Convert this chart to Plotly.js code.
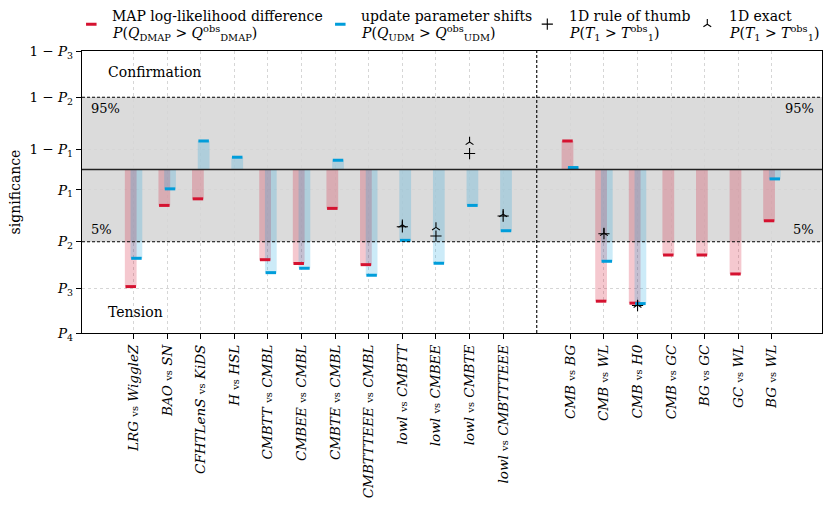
<!DOCTYPE html>
<html><head><meta charset="utf-8">
<script src="https://cdn.plot.ly/plotly-3.0.1.min.js"></script>
<style>html,body{margin:0;padding:0;background:#fff;} #chart{width:831px;height:506px;}</style>
</head><body><div id="chart"></div>
<script>
// ---- data (significance in transformed units; 0 = centre line) ----
const categories = ['LRG vs WiggleZ','BAO vs SN','CFHTLenS vs KiDS','H vs HSL','CMBTT vs CMBL','CMBEE vs CMBL','CMBTE vs CMBL','CMBTTTEEE vs CMBL','lowl vs CMBTT','lowl vs CMBEE','lowl vs CMBTE','lowl vs CMBTTTEEE','CMB vs BG','CMB vs WL','CMB vs H0','CMB vs GC','BG vs GC','GC vs WL','BG vs WL'];
const mapDiff   = [-2.668,-0.818,-0.668,null,-2.055,-2.141,-0.886,-2.168,null,null,null,null,0.650,-3.000,-3.045,-1.948,-1.948,-2.380,-1.168];
const updShift  = [-2.023,-0.441,0.650,0.280,-2.350,-2.250,0.211,-2.409,-1.614,-2.136,-0.818,-1.395,0.045,-2.091,-3.055,null,null,null,-0.214];
const ruleThumb = [null,null,null,null,null,null,null,null,-1.305,-1.516,0.364,-1.061,null,-1.464,-3.100,null,null,null,null];
const exact1D   = [null,null,null,null,null,null,null,null,-1.26,-1.318,0.627,-1.016,null,-1.448,-3.084,null,null,null,null];
const yTickVals = [2.70,1.645,0.465,-0.465,-1.645,-2.70,-3.725];
const yTickText = ['1 − <i>P</i><sub>3</sub>','1 − <i>P</i><sub>2</sub>','1 − <i>P</i><sub>1</sub>','<i>P</i><sub>1</sub>','<i>P</i><sub>2</sub>','<i>P</i><sub>3</sub>','<i>P</i><sub>4</sub>'];
const legendLine1 = ['MAP log-likelihood difference','update parameter shifts','1D rule of thumb','1D exact'];
const legendLine2 = ['<i>P</i>(<i>Q</i><sub>DMAP</sub> &gt; <i>Q</i><sup>obs</sup><sub>DMAP</sub>)',
                     '<i>P</i>(<i>Q</i><sub>UDM</sub> &gt; <i>Q</i><sup>obs</sup><sub>UDM</sub>)',
                     '<i>P</i>(<i>T</i><sub>1</sub> &gt; <i>T</i><sup>obs</sup><sub>1</sub>)',
                     '<i>P</i>(<i>T</i><sub>1</sub> &gt; <i>T</i><sup>obs</sup><sub>1</sub>)'];
const nLeft = 12;  // categories before the separator

// ---- layout helpers ----
const pos = i => (i < nLeft ? i : i + 1);
const xs = categories.map((c,i)=>pos(i));
const label = c => { const p = c.split(' vs '); return '<i>'+p[0]+'</i> <span style="font-size:10px">vs</span> <i>'+p[1]+'</i>'; };
const RED='rgb(213,18,48)', BLUE='rgb(0,157,218)';
const off = 0.085, bw = 0.35;

const traces = [
  {type:'bar', x:xs.map(v=>v-off), y:mapDiff, width:bw, marker:{color:'rgba(213,18,48,0.23)', line:{width:0}}, showlegend:false, hoverinfo:'skip'},
  {type:'bar', x:xs.map(v=>v+off), y:updShift, width:bw, marker:{color:'rgba(0,157,218,0.2)', line:{width:0}}, showlegend:false, hoverinfo:'skip'},
  {type:'scatter', mode:'markers', x:xs.map(v=>v-off), y:mapDiff, marker:{symbol:'line-ew', size:7.5, line:{color:RED, width:3}}, name:'', legend:'legend'},
  {type:'scatter', mode:'markers', x:xs.map(v=>v+off), y:updShift, marker:{symbol:'line-ew', size:7.5, line:{color:BLUE, width:3}}, name:'', legend:'legend2'},
  {type:'scatter', mode:'markers', x:xs, y:ruleThumb, marker:{symbol:'cross-thin', size:8, line:{color:'black', width:1.1}}, name:'', legend:'legend3'},
  {type:'scatter', mode:'markers', x:xs, y:exact1D, marker:{symbol:'y-up', size:6.5, line:{color:'black', width:1.1}}, name:'', legend:'legend4'}
];

const L=81.7, R=821.7, T=50.5, B=333.3;
const px = v => (v-L)/(R-L), py = v => (B-v)/(B-T);
const legSym = [91,340,547,707], legTxt = [110,359,567,727];
const legBase = {bgcolor:'rgba(0,0,0,0)', borderwidth:0, xanchor:'left', yanchor:'middle', font:{size:14}, y:py(24)};
const ann = (text,x,y,xa,size) => ({text, x:px(x), y:py(y), xref:'paper', yref:'paper', xanchor:xa, yanchor:'middle', showarrow:false, font:{size}});

const annotations = [
  ann('Confirmation',106,72,'left',14),
  ann('Tension',106,312,'left',14),
  ann('95%',89,108,'left',13),
  ann('95%',816,108,'right',13),
  ann('5%',89,230,'left',13),
  ann('5%',816,230,'right',13)
];
legendLine1.forEach((t,i)=>{
  annotations.push(ann(t, legTxt[i], 15, 'left', 14));
  annotations.push(ann(legendLine2[i], legTxt[i], 32, 'left', 14));
});

const layout = {
  width:831, height:506,
  margin:{l:L, r:831-R, t:T, b:506-B, autoexpand:false},
  paper_bgcolor:'white', plot_bgcolor:'white',
  font:{family:'DejaVu Serif', size:13, color:'black'},
  barmode:'overlay', showlegend:true,
  xaxis:{range:[-1.535,20.49], tickmode:'array', tickvals:xs, ticktext:categories.map(label), tickangle:-90,
         ticks:'outside', ticklen:5, tickcolor:'black', tickwidth:1, showline:true, linecolor:'black', linewidth:1.3, mirror:true,
         showgrid:true, gridcolor:'#d6d6d6', griddash:'dot', gridwidth:1, zeroline:false, tickfont:{size:13.5}},
  yaxis:{range:[-3.725,2.70], tickmode:'array', tickvals:yTickVals, ticktext:yTickText,
         ticks:'outside', ticklen:5, tickcolor:'black', tickwidth:1, showline:true, linecolor:'black', linewidth:1.3, mirror:true,
         showgrid:true, gridcolor:'#d6d6d6', griddash:'dot', gridwidth:1, zeroline:false, tickfont:{size:13.5},
         title:{text:'significance', font:{size:14}, standoff:5}},
  shapes:[
    {type:'rect', xref:'paper', x0:0, x1:1, yref:'y', y0:yTickVals[4], y1:yTickVals[1], fillcolor:'#dbdbdb', line:{width:0}, layer:'below'},
    {type:'line', xref:'paper', x0:0, x1:1, yref:'y', y0:yTickVals[1], y1:yTickVals[1], line:{color:'black', width:1.1, dash:'3px,2px'}},
    {type:'line', xref:'paper', x0:0, x1:1, yref:'y', y0:yTickVals[4], y1:yTickVals[4], line:{color:'black', width:1.1, dash:'3px,2px'}},
    {type:'line', xref:'paper', x0:0, x1:1, yref:'y', y0:0, y1:0, line:{color:'#222', width:1.3}},
    {type:'line', xref:'x', x0:nLeft, x1:nLeft, yref:'paper', y0:0, y1:1, line:{color:'black', width:1.1, dash:'3px,2px'}}
  ],
  annotations,
  legend: Object.assign({}, legBase, {x:px(legSym[0]-20)}),
  legend2:Object.assign({}, legBase, {x:px(legSym[1]-20)}),
  legend3:Object.assign({}, legBase, {x:px(legSym[2]-20)}),
  legend4:Object.assign({}, legBase, {x:px(legSym[3]-20)})
};
Plotly.newPlot('chart', traces, layout, {staticPlot:true, displayModeBar:false});
</script></body></html>
